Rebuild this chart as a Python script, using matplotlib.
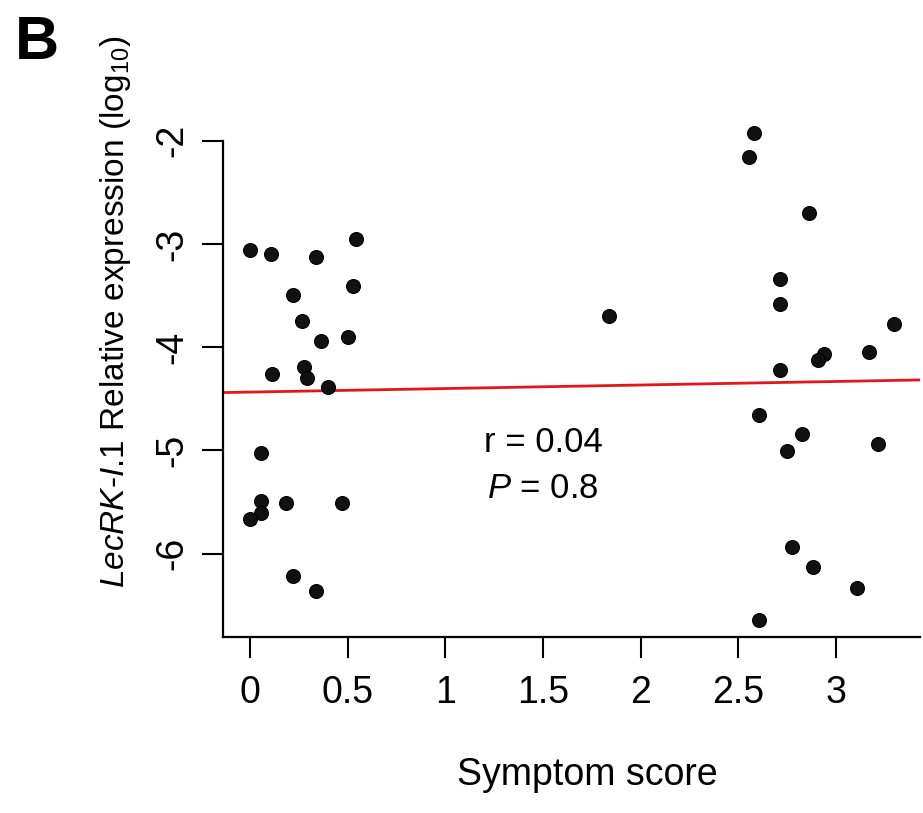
import numpy as np
from matplotlib import pyplot

#----------------------
# data
#----------------------
symptom_score = [0.00, 0.106, 0.336, 0.542, 0.221, 0.528, 0.268, 0.362, 0.503, 0.114,
                 0.276, 0.293, 0.401, 0.055, 0.055, 0.055, 0.00, 0.183, 0.469, 0.221,
                 0.336,
                 1.836,
                 2.582, 2.556, 2.861, 2.715, 2.715, 3.296, 2.941, 2.910, 3.168, 2.713,
                 2.607, 2.827, 2.748, 3.216, 2.774, 2.883, 3.108, 2.607]
expression = [-3.06, -3.10, -3.13, -2.95, -3.49, -3.41, -3.75, -3.94, -3.90, -4.26,
              -4.19, -4.30, -4.39, -5.02, -5.49, -5.61, -5.66, -5.51, -5.51, -6.22,
              -6.36,
              -3.70,
              -1.93, -2.16, -2.70, -3.34, -3.58, -3.78, -4.07, -4.12, -4.05, -4.22,
              -4.66, -4.84, -5.01, -4.94, -5.94, -6.13, -6.33, -6.64]
x_ticks = [0, 0.5, 1, 1.5, 2, 2.5, 3]
x_tick_labels = ["0", "0.5", "1", "1.5", "2", "2.5", "3"]
y_ticks = [-6, -5, -4, -3, -2]
stat_r = "0.04"
stat_p = "0.8"

#----------------------
# fonts
#----------------------
pyplot.rcParams["font.family"] = ["Liberation Sans", "DejaVu Sans"]
pyplot.rcParams["mathtext.fontset"] = "custom"
pyplot.rcParams["mathtext.rm"] = "Liberation Sans"
pyplot.rcParams["mathtext.it"] = "Liberation Sans:italic"
pyplot.rcParams["axes.unicode_minus"] = False

fig = pyplot.figure(figsize=(9.23, 8.13), dpi=100)
ax = fig.add_axes([0.2412, 0.2161, 0.7555, 0.6413])

# points
ax.scatter(symptom_score, expression, s=100, color="#111111", edgecolors="black",
           linewidths=0.8, zorder=3, clip_on=False)

# regression line
x = np.array(symptom_score)
y = np.array(expression)
slope, intercept = np.polyfit(x, y, 1)
x_line = np.array([-0.14, 3.43])
ax.plot(x_line, slope * x_line + intercept, color="#e3161f", linewidth=2.0, zorder=2)

# statistics text
ax.text(1.50, -4.92, "r = " + stat_r, ha="center", va="center", fontsize=25)
ax.text(1.50, -5.37, r"$\mathit{P}$ = " + stat_p, ha="center", va="center", fontsize=25)

#----------------------
# axes settings
#----------------------
ax.set_xlim(-0.14, 3.43)
ax.set_ylim(-6.81, -1.76)
ax.spines["top"].set_visible(False)
ax.spines["right"].set_visible(False)
ax.spines["left"].set_bounds(-6.81, -2)
ax.spines["left"].set_linewidth(1.6)
ax.spines["bottom"].set_linewidth(1.6)

ax.set_xticks(x_ticks)
ax.set_xticklabels(x_tick_labels)
ax.set_yticks(y_ticks)
ax.set_yticklabels([str(v) for v in y_ticks], rotation=90, va="center")
ax.tick_params(axis="both", direction="out", length=15, width=1.5, labelsize=27)
ax.tick_params(axis="x", pad=12)
ax.tick_params(axis="y", pad=8)

ax.set_xlabel("Symptom score", fontsize=27)
ax.xaxis.label.set_va("center")
ax.xaxis.set_label_coords(0.5225, -0.264)
ax.set_ylabel(r"$\mathit{LecRK}$-$\mathit{I}$.$\mathit{1}$ Relative expression (log$_{10}$)",
              fontsize=24)
ax.yaxis.label.set_va("center")
ax.yaxis.set_label_coords(-0.153, 0.624)

# panel letter
fig.text(15 / 923, 1 - 15 / 813, "B", fontsize=44, fontweight="bold", ha="left", va="top")

fig.savefig("out.png", dpi=100)
